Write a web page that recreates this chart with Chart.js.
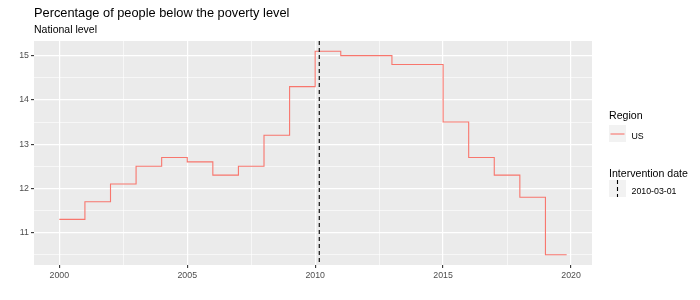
<!DOCTYPE html>
<html>
<head>
<meta charset="utf-8">
<script src="https://cdn.jsdelivr.net/npm/chart.js@4/dist/chart.umd.min.js"></script>
<style>
  html, body { margin: 0; padding: 0; background: #ffffff; }
  #wrap { position: relative; width: 700px; height: 300px; font-family: "Liberation Sans", Arial, sans-serif; }
  #wrap canvas { position: absolute; left: 0; top: 0; }
  .txt { position: absolute; line-height: 1; white-space: nowrap; color: #000; }
  .key { position: absolute; width: 17px; height: 17px; background: #F2F2F2; }
</style>
</head>
<body>
<div id="wrap">
  <canvas id="c" width="700" height="300"></canvas>
  <div class="txt" style="left:34px; top:6.5px; font-size:12.8px;">Percentage of people below the poverty level</div>
  <div class="txt" style="left:34px; top:24.4px; font-size:10.5px;">National level</div>

  <div class="txt" style="left:609px; top:110px; font-size:10.6px;">Region</div>
  <div class="key" style="left:609px; top:125px;">
    <svg width="17" height="17" style="position:absolute;left:0;top:0"><line x1="1.5" y1="9" x2="15.5" y2="9" stroke="#F8766D" stroke-width="1.1"/></svg>
  </div>
  <div class="txt" style="left:631.5px; top:131.5px; font-size:8.8px;">US</div>

  <div class="txt" style="left:609px; top:167.7px; font-size:10.6px;">Intervention date</div>
  <div class="key" style="left:609px; top:180px;">
    <svg width="17" height="17" style="position:absolute;left:0;top:0"><line x1="8.5" y1="0" x2="8.5" y2="17" stroke="#000" stroke-width="1.1" stroke-dasharray="4,3"/></svg>
  </div>
  <div class="txt" style="left:631.5px; top:187.2px; font-size:8.8px;">2010-03-01</div>
</div>
<script>
// ---- data ----
const years = [2000, 2001, 2002, 2003, 2004, 2005, 2006, 2007, 2008, 2009,
               2010, 2011, 2012, 2013, 2014, 2015, 2016, 2017, 2018, 2019];
const povertyUS = [11.3, 11.7, 12.1, 12.5, 12.7, 12.6, 12.3, 12.5, 13.2, 14.3,
                   15.1, 15.0, 15.0, 14.8, 14.8, 13.5, 12.7, 12.3, 11.8, 10.5];
const lastObservation = 2019.83;          // series ends Nov 2019
const interventionDate = 2010.16;         // 2010-03-01
const xMajorTicks = [2000, 2005, 2010, 2015, 2020];
const xMinorTicks = [2002.5, 2007.5, 2012.5, 2017.5];
const yMajorTicks = [11, 12, 13, 14, 15];
const yMinorTicks = [10.5, 11.5, 12.5, 13.5, 14.5];

const points = years.map((yr, i) => ({ x: yr, y: povertyUS[i] }));
points.push({ x: lastObservation, y: povertyUS[povertyUS.length - 1] });

const xMin = 1999.01, xMax = 2020.82, yMin = 10.27, yMax = 15.33;

const panelBg = {
  id: 'panelBg',
  beforeDraw(chart) {
    const a = chart.chartArea, ctx = chart.ctx;
    ctx.save();
    ctx.fillStyle = '#EBEBEB';
    ctx.fillRect(a.left, a.top, a.right - a.left, a.bottom - a.top);
    ctx.restore();
  }
};
const vline = {
  id: 'vline',
  afterDatasetsDraw(chart) {
    const a = chart.chartArea, ctx = chart.ctx;
    const x = chart.scales.x.getPixelForValue(interventionDate);
    ctx.save();
    ctx.strokeStyle = '#000';
    ctx.lineWidth = 1.1;
    ctx.setLineDash([4, 3]);
    ctx.beginPath();
    ctx.moveTo(x, a.top);
    ctx.lineTo(x, a.bottom);
    ctx.stroke();
    ctx.restore();
  }
};

function isMajor(list, v) { return list.some(t => Math.abs(t - v) < 1e-6); }

new Chart(document.getElementById('c'), {
  type: 'line',
  data: {
    datasets: [{
      label: 'US',
      data: points,
      borderColor: '#F8766D',
      borderWidth: 1.1,
      pointRadius: 0,
      stepped: 'before',
      fill: false
    }]
  },
  options: {
    responsive: false,
    animation: false,
    layout: { padding: { top: 41, right: 108, bottom: 0, left: 0 } },
    plugins: { legend: { display: false }, tooltip: { enabled: false }, title: { display: false } },
    scales: {
      x: {
        type: 'linear',
        min: xMin, max: xMax,
        afterBuildTicks: s => { s.ticks = xMajorTicks.concat(xMinorTicks).sort((a, b) => a - b).map(v => ({ value: v })); },
        afterFit: s => { s.height = 35; },
        border: { display: false },
        grid: {
          color: c => '#FFFFFF',
          lineWidth: c => isMajor(xMajorTicks, c.tick.value) ? 1.2 : 0.6,
          tickColor: c => isMajor(xMajorTicks, c.tick.value) ? '#333333' : 'rgba(0,0,0,0)',
          tickLength: 3,
          tickWidth: 1.1
        },
        ticks: {
          autoSkip: false, maxRotation: 0, padding: 2,
          color: '#4D4D4D',
          font: { family: 'Liberation Sans', size: 8.8 },
          callback: v => isMajor(xMajorTicks, v) ? String(v) : ''
        }
      },
      y: {
        min: yMin, max: yMax,
        afterBuildTicks: s => { s.ticks = yMajorTicks.concat(yMinorTicks).sort((a, b) => a - b).map(v => ({ value: v })); },
        afterFit: s => { s.width = 34; },
        border: { display: false },
        grid: {
          color: c => '#FFFFFF',
          lineWidth: c => isMajor(yMajorTicks, c.tick.value) ? 1.2 : 0.6,
          tickColor: c => isMajor(yMajorTicks, c.tick.value) ? '#333333' : 'rgba(0,0,0,0)',
          tickLength: 3,
          tickWidth: 1.1
        },
        ticks: {
          autoSkip: false, padding: 2,
          color: '#4D4D4D',
          font: { family: 'Liberation Sans', size: 8.8 },
          callback: v => isMajor(yMajorTicks, v) ? String(v) : ''
        }
      }
    }
  },
  plugins: [panelBg, vline]
});
</script>
</body>
</html>
